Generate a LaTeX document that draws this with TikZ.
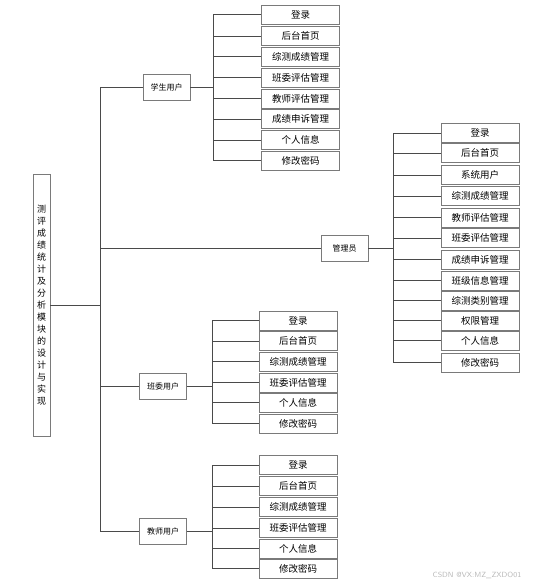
\documentclass[tikz,border=0pt]{standalone}
\usepackage{fontspec}
\setmainfont{Noto Sans CJK SC}
\usepackage{xcolor}
\definecolor{boxLine}  {HTML}{7A7A7A}
\definecolor{linkLine} {HTML}{4A4A4A}
\usetikzlibrary{positioning, calc}

\begin{document}
\begin{tikzpicture}[
    x=1pt, y=-1pt,
    leaf/.style={draw=boxLine, line width=0.9pt, rectangle,
                 minimum width=78pt, minimum height=19pt, inner sep=0pt,
                 font=\fontsize{9.5}{10}\selectfont},
    role/.style={draw=boxLine, line width=0.9pt, rectangle,
                 minimum width=47pt, minimum height=26pt, inner sep=0pt,
                 font=\fontsize{8}{10}\selectfont},
    link/.style={-, draw=linkLine, line width=0.8pt},
]
\useasboundingbox (0,0) rectangle (533,587);

% --- root ---
\node[draw=boxLine, line width=0.9pt, minimum width=17pt, minimum height=262pt,
      inner sep=0pt, align=center, font=\fontsize{9}{12}\selectfont]
    (root) at (41.5,305)
    {测\\评\\成\\绩\\统\\计\\及\\分\\析\\模\\块\\的\\设\\计\\与\\实\\现};
\coordinate (trunk) at (100,305);
\draw[link] (root.east) -- (trunk);

% --- roles ---
\node[role] (stu) at (166.5,87)  {学生用户};
\node[role] (adm) at (344.5,248) {管理员};
\node[role] (cls) at (163,386)   {班委用户};
\node[role] (tch) at (163,531)   {教师用户};
\draw[link] (trunk) |- (stu.west);
\draw[link] (trunk) |- (adm.west);
\draw[link] (trunk) |- (cls.west);
\draw[link] (trunk) |- (tch.west);

% --- student user ---
\node[leaf] (stu-1) at (300.5,14.5)  {登录};
\node[leaf] (stu-2) at (300.5,36)    {后台首页};
\node[leaf] (stu-3) at (300.5,56.5)  {综测成绩管理};
\node[leaf] (stu-4) at (300.5,77.5)  {班委评估管理};
\node[leaf] (stu-5) at (300.5,98.5)  {教师评估管理};
\node[leaf] (stu-6) at (300.5,119)   {成绩申诉管理};
\node[leaf] (stu-7) at (300.5,140)   {个人信息};
\node[leaf] (stu-8) at (300.5,160.5) {修改密码};
\coordinate (stu-bus) at (213,87);
\draw[link] (stu.east) -- (stu-bus);
\foreach \i in {1,...,8} \draw[link] (stu-bus) |- (stu-\i.west);

% --- administrator ---
\node[leaf] (adm-1)  at (480,133)   {登录};
\node[leaf] (adm-2)  at (480,153)   {后台首页};
\node[leaf] (adm-3)  at (480,175)   {系统用户};
\node[leaf] (adm-4)  at (480,196)   {综测成绩管理};
\node[leaf] (adm-5)  at (480,217.5) {教师评估管理};
\node[leaf] (adm-6)  at (480,238)   {班委评估管理};
\node[leaf] (adm-7)  at (480,259.5) {成绩申诉管理};
\node[leaf] (adm-8)  at (480,280.5) {班级信息管理};
\node[leaf] (adm-9)  at (480,300.5) {综测类别管理};
\node[leaf] (adm-10) at (480,320.5) {权限管理};
\node[leaf] (adm-11) at (480,340.5) {个人信息};
\node[leaf] (adm-12) at (480,362.5) {修改密码};
\coordinate (adm-bus) at (393,248);
\draw[link] (adm.east) -- (adm-bus);
\foreach \i in {1,...,12} \draw[link] (adm-bus) |- (adm-\i.west);

% --- class committee user ---
\node[leaf] (cls-1) at (298,320.5) {登录};
\node[leaf] (cls-2) at (298,341)   {后台首页};
\node[leaf] (cls-3) at (298,361.5) {综测成绩管理};
\node[leaf] (cls-4) at (298,382.5) {班委评估管理};
\node[leaf] (cls-5) at (298,402.5) {个人信息};
\node[leaf] (cls-6) at (298,423.5) {修改密码};
\coordinate (cls-bus) at (212,386);
\draw[link] (cls.east) -- (cls-bus);
\foreach \i in {1,...,6} \draw[link] (cls-bus) |- (cls-\i.west);

% --- teacher user ---
\node[leaf] (tch-1) at (298,465)   {登录};
\node[leaf] (tch-2) at (298,486)   {后台首页};
\node[leaf] (tch-3) at (298,507)   {综测成绩管理};
\node[leaf] (tch-4) at (298,528)   {班委评估管理};
\node[leaf] (tch-5) at (298,548.5) {个人信息};
\node[leaf] (tch-6) at (298,568.5) {修改密码};
\coordinate (tch-bus) at (212,531);
\draw[link] (tch.east) -- (tch-bus);
\foreach \i in {1,...,6} \draw[link] (tch-bus) |- (tch-\i.west);

\node[text=gray!55, font=\fontsize{7.5}{9}\selectfont\sffamily] (mark) at (477,575)
    {CSDN @VX:MZ\_ZXDO01};
\end{tikzpicture}
\end{document}
